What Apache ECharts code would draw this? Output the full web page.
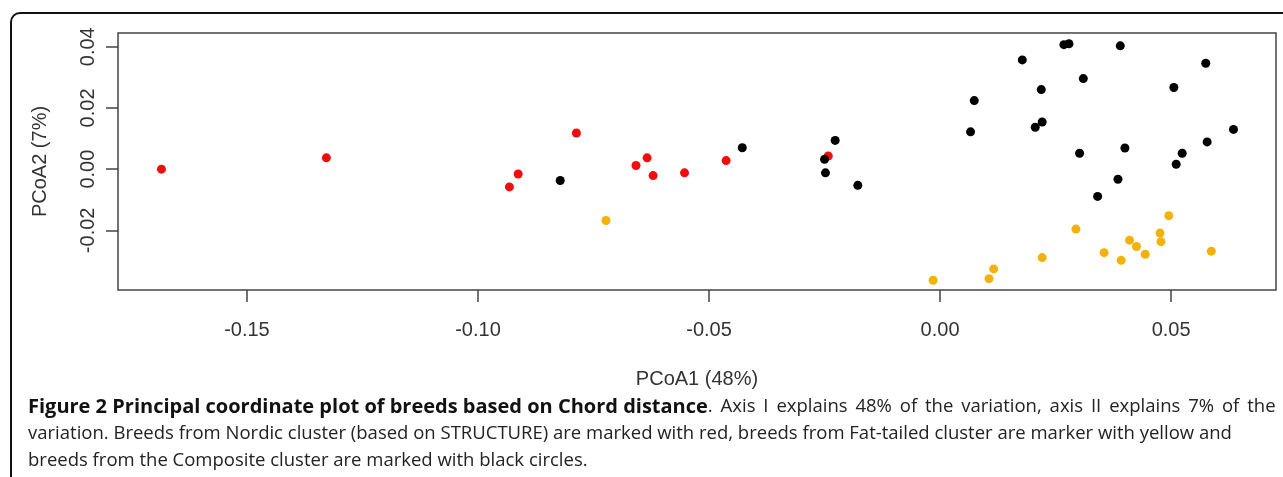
<!DOCTYPE html>
<html>
<head>
<meta charset="utf-8">
<script src="https://cdn.jsdelivr.net/npm/echarts@6/dist/echarts.min.js"></script>
<style>
html,body{margin:0;padding:0;background:#fff;}
#chart{width:1283px;height:477px;}
</style>
</head>
<body>
<div id="chart"></div>
<script>
// Nordic cluster (red)
const nordicPoints = [
  [-0.1685, 0.0000], [-0.1328, 0.0037], [-0.0932, -0.0058], [-0.0913, -0.0016],
  [-0.0787, 0.0118], [-0.0658, 0.0012], [-0.0634, 0.0037], [-0.0621, -0.0021],
  [-0.0553, -0.0012], [-0.0463, 0.0028], [-0.0242, 0.0043]
];
// Composite cluster (black)
const compositePoints = [
  [-0.0822, -0.0037], [-0.0428, 0.0070], [-0.0250, 0.0032], [-0.0248, -0.0012],
  [-0.0227, 0.0094], [-0.0178, -0.0053], [0.0074, 0.0224], [0.0066, 0.0122],
  [0.0178, 0.0357], [0.0219, 0.0260], [0.0206, 0.0137], [0.0221, 0.0154],
  [0.0268, 0.0407], [0.0279, 0.0410], [0.0310, 0.0296], [0.0302, 0.0052],
  [0.0390, 0.0403], [0.0400, 0.0069], [0.0385, -0.0033], [0.0341, -0.0089],
  [0.0575, 0.0346], [0.0506, 0.0267], [0.0635, 0.0130], [0.0578, 0.0089],
  [0.0524, 0.0052], [0.0511, 0.0016]
];
// Fat-tailed cluster (yellow)
const fatTailedPoints = [
  [-0.0723, -0.0168], [0.0495, -0.0152], [0.0294, -0.0196], [0.0476, -0.0209],
  [0.0478, -0.0237], [0.0410, -0.0232], [0.0425, -0.0253], [0.0355, -0.0273],
  [0.0444, -0.0278], [0.0392, -0.0298], [0.0587, -0.0268], [0.0221, -0.0289],
  [0.0116, -0.0326], [0.0106, -0.0358], [-0.0015, -0.0363]
];
const xTicks = [-0.15, -0.10, -0.05, 0.00, 0.05];
const yTicks = [-0.02, 0.00, 0.02, 0.04];
const xAxisTitle = 'PCoA1 (48%)';
const yAxisTitle = 'PCoA2 (7%)';
const captionBold = 'Figure 2 Principal coordinate plot of breeds based on Chord distance';
const captionLine1Rest = '. Axis I explains 48% of the variation, axis II explains 7% of the';
const captionLine2 = 'variation. Breeds from Nordic cluster (based on STRUCTURE) are marked with red, breeds from Fat-tailed cluster are marker with yellow and';
const captionLine3 = 'breeds from the Composite cluster are marked with black circles.';

const axisFont = '"Liberation Sans", Arial, sans-serif';
const capFont = '"Open Sans", "Noto Sans", sans-serif';
const axisColor = '#333';

const chart = echarts.init(document.getElementById('chart'), null, {renderer: 'canvas'});

function scatter(name, data, color) {
  return {
    name: name, type: 'scatter', data: data, symbol: 'circle', symbolSize: 9,
    itemStyle: {color: color, opacity: 1}, silent: true, animation: false
  };
}

// justified first caption line: widen word gaps slightly
const justifiedRest = captionLine1Rest.split(' ').join(' \u2009');

const frameStyle = {stroke: '#111', lineWidth: 2, fill: 'none'};

chart.setOption({
  backgroundColor: '#fff',
  animation: false,
  grid: {left: 118, right: 7, top: 33, bottom: 187, show: true, borderColor: '#444', borderWidth: 1.5, backgroundColor: 'transparent'},
  xAxis: {
    type: 'value', min: -0.1779, max: 0.0727,
    name: xAxisTitle, nameLocation: 'middle', nameGap: 79,
    nameTextStyle: {fontFamily: axisFont, fontSize: 20, color: axisColor},
    axisLine: {show: false, onZero: false},
    splitLine: {show: false},
    axisTick: {show: true, inside: false, length: 12, lineStyle: {color: '#444', width: 1.5}, customValues: xTicks},
    axisLabel: {show: true, margin: 30, fontFamily: axisFont, fontSize: 20, color: axisColor,
      customValues: xTicks, formatter: v => v.toFixed(2)}
  },
  yAxis: {
    type: 'value', min: -0.0395, max: 0.0445,
    name: yAxisTitle, nameLocation: 'middle', nameGap: 68, nameRotate: 90,
    nameTextStyle: {fontFamily: axisFont, fontSize: 20, color: axisColor},
    axisLine: {show: false, onZero: false},
    splitLine: {show: false},
    axisTick: {show: true, inside: false, length: 12, lineStyle: {color: '#444', width: 1.5}, customValues: yTicks},
    axisLabel: {show: true, margin: 20, rotate: 90, fontFamily: axisFont, fontSize: 20, color: axisColor,
      customValues: yTicks, formatter: v => v.toFixed(2)}
  },
  series: [
    scatter('Nordic', nordicPoints, '#f20d0d'),
    scatter('Fat-tailed', fatTailedPoints, '#f2b20a'),
    scatter('Composite', compositePoints, '#000000')
  ],
  graphic: [
    {type: 'line', silent: true, shape: {x1: 11, y1: 22, x2: 11, y2: 490}, style: frameStyle},
    {type: 'line', silent: true, shape: {x1: 20, y1: 13, x2: 1300, y2: 13}, style: frameStyle},
    {type: 'arc', silent: true, shape: {cx: 20, cy: 22, r: 9, startAngle: Math.PI, endAngle: Math.PI * 1.5, clockwise: true}, style: frameStyle},
    {type: 'text', left: 28, top: 397, silent: true,
      style: {text: '{b|' + captionBold + '}{n|' + justifiedRest + '}',
        rich: {b: {fontFamily: capFont, fontSize: 20, fontWeight: 'bold', fill: '#111'},
               n: {fontFamily: capFont, fontSize: 18.5, fill: '#222'}}}},
    {type: 'text', left: 28, top: 424, silent: true,
      style: {text: captionLine2, fontFamily: capFont, fontSize: 18.5, fill: '#222'}},
    {type: 'text', left: 28, top: 451, silent: true,
      style: {text: captionLine3, fontFamily: capFont, fontSize: 18.5, fill: '#222'}}
  ]
});
</script>
</body>
</html>
